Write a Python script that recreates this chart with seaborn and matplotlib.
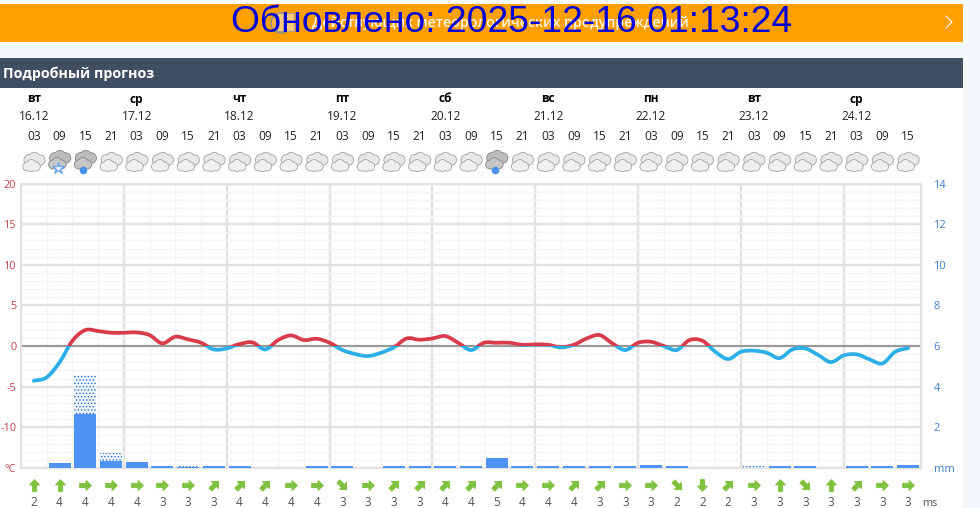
import matplotlib
matplotlib.use('Agg')
import numpy as np
import matplotlib.pyplot as plt
import seaborn as sns
from matplotlib.markers import MarkerStyle
from matplotlib.patches import Circle, PathPatch, Rectangle
from matplotlib.path import Path
from matplotlib.transforms import Affine2D, blended_transform_factory

# ---------------------------
# Data
# ---------------------------
weekdays = ["вт", "ср", "чт", "пт", "сб", "вс", "пн", "вт", "ср"]
dates = ["16.12", "17.12", "18.12", "19.12", "20.12", "21.12", "22.12", "23.12", "24.12"]
hours = ["03", "09", "15", "21"] * 8 + ["03", "09", "15"]
# temperature read every half slot (3 hours)
temp = [-4.26, -3.85, -2.0, 0.65, 1.97, 1.85, 1.64, 1.64, 1.68, 1.35, 0.33, 1.15,
        0.82, 0.41, -0.41, -0.29, 0.25, 0.45, -0.41, 0.74, 1.31, 0.74, 0.9, 0.41,
        -0.49, -0.98, -1.23, -0.82, -0.16, 0.94, 0.78, 0.94, 1.23, 0.41, -0.49, 0.41,
        0.41, 0.41, 0.16, 0.2, 0.16, -0.16, 0.16, 0.94, 1.35, 0.33, -0.49, 0.41,
        0.53, 0.0, -0.49, 0.74, 0.65, -0.7, -1.6, -0.7, -0.57, -0.82, -1.48, -0.41,
        -0.29, -1.1, -1.97, -1.15, -1.02, -1.64, -2.13, -0.7, -0.25]
precip = [0, 0.25, 2.65, 0.36, 0.3, 0.08, 0.03, 0.08, 0.08, 0, 0, 0.1,
          0.08, 0, 0.08, 0.08, 0.08, 0.1, 0.5, 0.1, 0.1, 0.1, 0.08, 0.08,
          0.13, 0.1, 0, 0, 0, 0.08, 0.1, 0, 0.08, 0.08, 0.16]
precip_dotted = [0, 0, 4.57, 0.74, 0, 0, 0.11, 0, 0, 0, 0, 0,
                 0, 0, 0, 0, 0, 0, 0, 0, 0, 0, 0, 0,
                 0, 0, 0, 0, 0.08, 0, 0, 0, 0, 0, 0]
wind_speed = [2, 4, 4, 4, 4, 3, 3, 3, 4, 4, 4, 4,
              3, 3, 3, 3, 4, 4, 5, 4, 4, 4, 3, 3,
              3, 2, 2, 2, 3, 3, 3, 3, 3, 3, 3]
wind_dir = [90, 90, 0, 0, 0, 0, 0, 45, 45, 45, 0, 0,
            -45, 0, 45, 45, 45, 45, 45, 0, 0, 45, 45, 0,
            0, -45, -90, 45, 0, 90, -45, 90, 45, 0, 0]
# c = cloudy, s = snow, r = rain
icons = list("csr" + "c" * 15 + "r" + "c" * 16)

slots = np.arange(len(hours))
half_slots = np.arange(len(temp)) / 2

RED = "#d83c4b"
BLUE = "#2bafe6"
BAR = "#4f94f5"

sns.set_style("white")
plt.rcParams['font.family'] = ['Open Sans', 'DejaVu Sans']
plt.rcParams['hatch.linewidth'] = 0.6

fig = plt.figure(figsize=(9.8, 5.08), dpi=100)

# ---------------------------
# Page in pixel coordinates
# ---------------------------
page = fig.add_axes([0, 0, 1, 1])
page.set_xlim(0, 980)
page.set_ylim(508, 0)
page.axis("off")

page.add_patch(Rectangle((0, 0), 980, 508, color="white", lw=0))
page.add_patch(Rectangle((963, 0), 17, 508, color="#f4f8fb", lw=0))
page.add_patch(Rectangle((0, 42), 963, 16, color="#f4f8fb", lw=0))
page.add_patch(Rectangle((0, 4), 963, 38, color="#ff9f00", lw=0))
page.add_patch(Rectangle((0, 58), 963, 30, color="#3f4e60", lw=0))

page.add_patch(Circle((281, 23), 10, fc="#ffb040", ec="#8a8a80", lw=1))
page.add_patch(Rectangle((277, 13), 17, 18, fc="#ffc978", ec="#a8a090", lw=0.8))
page.plot([946, 952, 946], [16, 22, 28], color="white", lw=0.8)
page.text(312, 23, "Действующих метеорологических предупреждений", color="white",
          fontsize=10.2, fontweight="semibold", va="center", ha="left", alpha=0.9)
page.text(231, 32, "Обновлено: 2025-12-16 01:13:24", color="#0000dc",
          family="Liberation Sans", fontsize=26.8, va="baseline", ha="left")
page.text(3, 74, "Подробный прогноз", color="white", fontsize=10.3,
          fontweight="bold", va="center", ha="left")

# ---------------------------
# Chart
# ---------------------------
ax = fig.add_axes([21 / 980, 40 / 508, 900 / 980, 284.5 / 508])
ax2 = ax.twinx()


def smooth_line(axis, line, clip):
    # same points as the seaborn line, joined by curves like the site does
    xy = line.get_xydata()
    verts = [xy[0]]
    codes = [Path.MOVETO]
    for k in range(len(xy) - 1):
        before = xy[max(k - 1, 0)]
        after = xy[min(k + 2, len(xy) - 1)]
        verts += [xy[k] + (xy[k + 1] - before) / 6, xy[k + 1] - (after - xy[k]) / 6, xy[k + 1]]
        codes += [Path.CURVE4] * 3
    patch = PathPatch(Path(verts, codes), fc="none", ec=line.get_color(),
                      lw=line.get_linewidth(), capstyle="round", joinstyle="round", zorder=3)
    axis.add_patch(patch)
    patch.set_clip_path(clip)
    line.remove()


sns.lineplot(x=half_slots, y=temp, color=RED, linewidth=2.7, errorbar=None, ax=ax)
smooth_line(ax, ax.lines[-1], Rectangle((-1, 0), 37, 25, transform=ax.transData))
sns.lineplot(x=half_slots, y=temp, color=BLUE, linewidth=2.7, errorbar=None, ax=ax)
smooth_line(ax, ax.lines[-1], Rectangle((-1, -20), 37, 20, transform=ax.transData))

sns.barplot(x=slots, y=precip_dotted, native_scale=True, width=0.86, facecolor="#eef5ff",
            edgecolor="#2a6fc0", hatch=".....", linewidth=0, ax=ax2)
sns.barplot(x=slots, y=precip, native_scale=True, width=0.86, color=BAR,
            saturation=1, linewidth=0, ax=ax2)

ax.set_xlim(-0.5, 34.5)
ax.set_ylim(-15, 20)
ax2.set_ylim(0, 14)
ax.set_xlabel("")
ax.set_ylabel("")
ax2.set_xlabel("")
ax2.set_ylabel("")

ax.set_xticks(np.arange(-0.5, 35, 4))
ax.set_xticks(np.arange(-0.5, 35, 1), minor=True)
ax.set_yticks(np.arange(-15, 21, 5))
ax.set_yticks(np.arange(-15, 21, 1), minor=True)
ax.set_xticklabels([])
ax.set_yticklabels(["°C", "-10", "-5", "0", "5", "10", "15", "20"])
ax.tick_params(axis="both", which="both", length=0)
ax.tick_params(axis="y", labelcolor="#c8404c", labelsize=7.8, pad=3.5)
ax.grid(True, which="major", color="#e2e2e2", linewidth=1.7)
ax.grid(True, which="minor", color="#f4f4f4", linewidth=1.0)
ax.set_axisbelow(True)
ax.axhline(0, color="#9a9a9a", linewidth=1.5, zorder=1.5)

ax2.set_yticks(np.arange(0, 15, 2))
ax2.set_yticklabels(["mm", "2", "4", "6", "8", "10", "12", "14"])
ax2.tick_params(axis="y", length=0, labelcolor="#3f7fd0", labelsize=8, pad=9)
ax2.grid(False)
ax2.patch.set_visible(False)
for spine in ax.spines.values():
    spine.set_color("#e2e2e2")
    spine.set_linewidth(1.6)
for spine in ax2.spines.values():
    spine.set_visible(False)

# ---------------------------
# Header and wind rows, x from the chart scale, y in pixels
# ---------------------------
row = blended_transform_factory(ax.transData, page.transData)

for i, (day, date) in enumerate(zip(weekdays, dates)):
    page.text(i * 4, 99, day, transform=row, ha="center", va="center",
              fontsize=8.6, fontweight="bold", color="black")
    page.text(i * 4, 116, date, transform=row, ha="center", va="center",
              fontsize=8.6, color="#222222")
for i, hour in zip(slots, hours):
    page.text(i, 136, hour, transform=row, ha="center", va="center",
              fontsize=8.6, color="#222222")

arrow = Path([(-1, -0.36), (0.1, -0.36), (0.1, -0.85), (1, 0), (0.1, 0.85), (0.1, 0.36), (-1, 0.36), (-1, -0.36)],
             closed=True)
for i, direction, speed in zip(slots, wind_dir, wind_speed):
    marker = MarkerStyle(arrow, transform=Affine2D().rotate_deg(direction), joinstyle="round")
    page.plot([i], [484.5], transform=row, marker=marker, markersize=8.4,
              color="#7fc241", markeredgewidth=0.7, linestyle="none")
    page.text(i, 503, str(speed), transform=row, ha="center", va="center",
              fontsize=8.4, color="#555555")
page.text(930, 503, "ms", ha="center", va="center", fontsize=7.8, color="#555555")


# ---------------------------
# Cloud icons
# ---------------------------
def puffs(cx, cy, parts, fill, edge):
    for dx, dy, r in parts:
        page.add_patch(Circle((cx + dx, cy + dy), r, fc=edge, ec=edge, lw=1.3))
    for dx, dy, r in parts:
        page.add_patch(Circle((cx + dx, cy + dy), r, fc=fill, ec="none", lw=0))


back = [(-4.5, -2, 5), (0.5, -4.2, 5), (6, -2, 4.8), (2, 0, 5)]
front = [(-6.5, 4.5, 4), (-2.5, 2.5, 4.5), (2, 4.5, 4), (-2.5, 5.5, 3.6)]
for i, kind in zip(slots, icons):
    x = 33.86 + i * 25.71
    if kind == "c":
        puffs(x, 162, back, "#e8e8e8", "#a8a8a8")
        puffs(x, 162, front, "#f0f0f0", "#a8a8a8")
    else:
        puffs(x, 160, back, "#bdbdbd", "#8c8c8c")
        puffs(x, 160, front, "#c6c6c6", "#8c8c8c")
        if kind == "s":
            page.plot([x - 2], [168], marker="*", markersize=9, color="#eef5ff",
                      markeredgecolor="#6aa8f0", markeredgewidth=1.0)
        else:
            page.plot([x - 2], [169.5], marker="o", markersize=5.5, color="#4a90e8",
                      markeredgewidth=0)

fig.savefig("out.png", dpi=100)
plt.close()
